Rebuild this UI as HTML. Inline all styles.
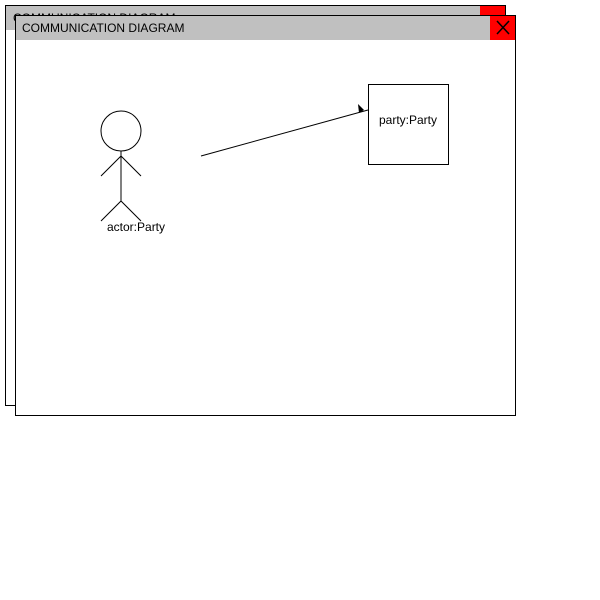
<!DOCTYPE html>
<html><head><style>
html,body{margin:0;padding:0;background:#fff;width:600px;height:600px;overflow:hidden}
</style></head><body>
<svg width="600" height="600" xmlns="http://www.w3.org/2000/svg" style="position:absolute;left:0;top:0" font-family="Liberation Sans, sans-serif">
<rect x="5.5" y="5.5" width="500" height="400" fill="#fff" stroke="#000"/>
<rect x="6" y="6" width="499" height="24" fill="#c0c0c0"/>
<rect x="480" y="6" width="25" height="24" fill="#f00"/>
<text x="13" y="22" font-size="12">COMMUNICATION DIAGRAM</text>
<rect x="15.5" y="15.5" width="500" height="400" fill="#fff" stroke="#000"/>
<rect x="16" y="16" width="499" height="24" fill="#c0c0c0"/>
<rect x="490" y="16" width="25" height="24" fill="#f00"/>
<path d="M497 21 L509 34 M509 21 L497 34" stroke="#000" stroke-width="1.5"/>
<text x="22" y="32" font-size="12">COMMUNICATION DIAGRAM</text>
<circle cx="121" cy="131" r="20" fill="none" stroke="#000"/>
<path d="M121 151 V201 M101 176 L121 156 L141 176 M101 221 L121 201 L141 221" stroke="#000" fill="none"/>
<text x="107" y="231" font-size="12">actor:Party</text>
<rect x="368.5" y="84.5" width="80" height="80" fill="#fff" stroke="#000"/>
<text x="408" y="124" font-size="12" text-anchor="middle">party:Party</text>
<line x1="201" y1="156" x2="368" y2="110" stroke="#000"/>
<path d="M358 104 L364 110 L359 113 Z" fill="#000"/>
</svg>
</body></html>
